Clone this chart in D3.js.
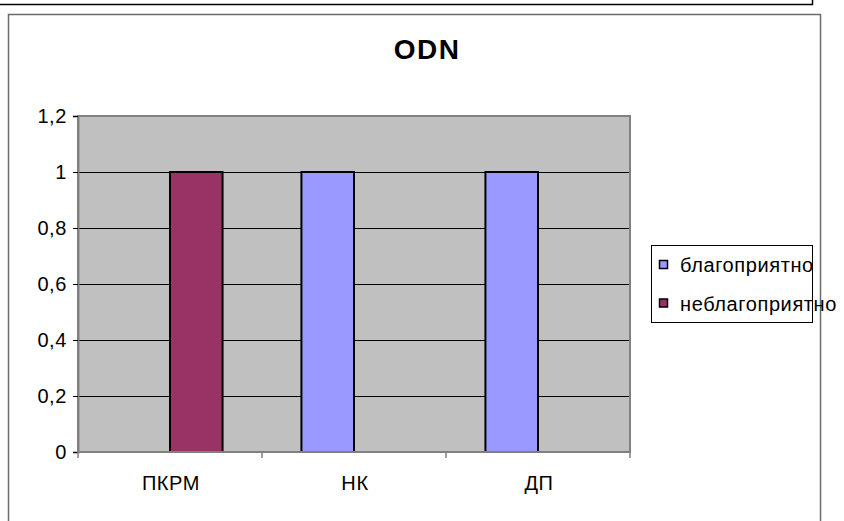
<!DOCTYPE html>
<html>
<head>
<meta charset="utf-8">
<script src="https://cdn.jsdelivr.net/npm/d3@7"></script>
<style>
  body { margin: 0; background: #fff; }
  text { font-family: Arial, "Liberation Sans", sans-serif; }
</style>
</head>
<body>
<script>
var categories = ["ПКРМ", "НК", "ДП"];
var seriesNames = ["благоприятно", "неблагоприятно"];
var favourable = [0, 1, 1];
var unfavourable = [1, 0, 0];
var yTicks = [0, 0.2, 0.4, 0.6, 0.8, 1, 1.2];
var colors = ["#9999FF", "#993366"];

var width = 844, height = 521;
var plot = {left: 78, top: 116, right: 630, bottom: 452};

var svg = d3.select("body").append("svg")
  .attr("width", width)
  .attr("height", height);

// bit of the frame above (previous object on the page)
svg.append("path")
  .attr("d", "M0,4.5H812.5V0")
  .attr("fill", "none")
  .attr("stroke", "#000")
  .attr("stroke-width", 1.5);

// chart frame
svg.append("rect")
  .attr("x", 8.5).attr("y", 14.5)
  .attr("width", 812).attr("height", 520)
  .attr("fill", "#fff")
  .attr("stroke", "#6b6b6b")
  .attr("stroke-width", 1.5);

var x0 = d3.scaleBand()
  .domain(categories)
  .range([plot.left, plot.right]);

// excel style gap width 150%
var bw = x0.bandwidth();
var barW = bw / 3.5;
var x1 = d3.scaleBand()
  .domain(seriesNames)
  .range([barW * 0.75, bw - barW * 0.75]);

var y = d3.scaleLinear()
  .domain([0, 1.2])
  .range([plot.bottom, plot.top]);

// plot area
svg.append("rect")
  .attr("x", plot.left).attr("y", plot.top)
  .attr("width", plot.right - plot.left)
  .attr("height", plot.bottom - plot.top)
  .attr("fill", "#C0C0C0");

// gridlines
svg.append("g")
  .selectAll("line")
  .data(yTicks.filter(d => d > 0 && d < 1.2))
  .enter().append("line")
  .attr("x1", plot.left).attr("x2", plot.right)
  .attr("y1", d => Math.round(y(d)) + 0.5)
  .attr("y2", d => Math.round(y(d)) + 0.5)
  .attr("stroke", "#000")
  .attr("stroke-width", 1);

// plot border
svg.append("rect")
  .attr("x", plot.left).attr("y", plot.top)
  .attr("width", plot.right - plot.left)
  .attr("height", plot.bottom - plot.top)
  .attr("fill", "none")
  .attr("stroke", "#808080")
  .attr("stroke-width", 2);

// bars
var rows = [];
categories.forEach(function(c, i) {
  rows.push({cat: c, series: seriesNames[0], value: favourable[i], color: colors[0]});
  rows.push({cat: c, series: seriesNames[1], value: unfavourable[i], color: colors[1]});
});

svg.append("g")
  .selectAll("rect")
  .data(rows.filter(d => d.value > 0))
  .enter().append("rect")
  .attr("x", d => x0(d.cat) + x1(d.series))
  .attr("y", d => y(d.value))
  .attr("width", x1.bandwidth())
  .attr("height", d => y(0) - y(d.value))
  .attr("fill", d => d.color)
  .attr("stroke", "#000")
  .attr("stroke-width", 2);

// y axis
var yAxis = d3.axisLeft(y)
  .tickValues(yTicks)
  .tickSize(5)
  .tickPadding(6)
  .tickFormat(d => String(d).replace(".", ","));

var gy = svg.append("g")
  .attr("transform", "translate(" + plot.left + ",0)")
  .call(yAxis);
gy.select(".domain").attr("stroke", "#808080").attr("stroke-width", 2);
gy.selectAll(".tick line").attr("stroke", "#000");
gy.selectAll("text")
  .attr("font-size", 20)
  .attr("letter-spacing", 0.6)
  .attr("fill", "#000");

// x axis
var gx = svg.append("g")
  .attr("transform", "translate(0," + plot.bottom + ")");
gx.append("line")
  .attr("x1", plot.left).attr("x2", plot.right)
  .attr("stroke", "#808080").attr("stroke-width", 2);
gx.selectAll(".xt")
  .data(categories.map(c => x0(c)).concat([plot.right]))
  .enter().append("line")
  .attr("class", "xt")
  .attr("x1", d => d).attr("x2", d => d)
  .attr("y1", 0).attr("y2", 6)
  .attr("stroke", "#808080").attr("stroke-width", 1.5);
gx.selectAll("text")
  .data(categories)
  .enter().append("text")
  .attr("x", d => x0(d) + bw / 2 + 1)
  .attr("y", 38)
  .attr("text-anchor", "middle")
  .attr("font-size", 20)
  .attr("letter-spacing", 0.6)
  .text(d => d);

// title
svg.append("text")
  .attr("x", 427).attr("y", 59)
  .attr("text-anchor", "middle")
  .attr("font-size", 28)
  .attr("font-weight", "bold")
  .attr("letter-spacing", 1.5)
  .text("ODN");

// legend
var legend = svg.append("g");
legend.append("rect")
  .attr("x", 651.5).attr("y", 245.5)
  .attr("width", 161).attr("height", 77)
  .attr("fill", "none")
  .attr("stroke", "#000")
  .attr("stroke-width", 1);

var li = legend.selectAll("g.item")
  .data(seriesNames)
  .enter().append("g")
  .attr("class", "item")
  .attr("transform", (d, i) => "translate(0," + (i * 38.5) + ")");
li.append("rect")
  .attr("x", 659.5).attr("y", 260.5)
  .attr("width", 8).attr("height", 8)
  .attr("fill", (d, i) => colors[i])
  .attr("stroke", "#000")
  .attr("stroke-width", 1.5);
li.append("text")
  .attr("x", 680).attr("y", 272)
  .attr("font-size", 20)
  .attr("letter-spacing", 0.6)
  .text(d => d);
</script>
</body>
</html>
